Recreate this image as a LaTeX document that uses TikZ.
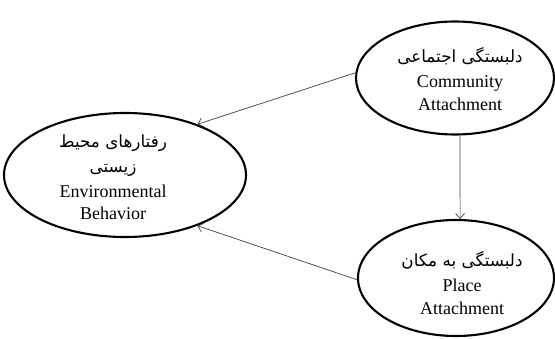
\documentclass[tikz,border=0pt]{standalone}
\usepackage{fontspec}
\setmainfont{Liberation Serif}
\newfontfamily\farsifont[Script=Arabic]{DejaVu Sans}
\TeXXeTstate=1
\usetikzlibrary{shapes.geometric,arrows.meta}

\newcommand{\fa}[1]{{\farsifont\fontsize{16.8}{22.5}\selectfont\beginR #1\endR}}

\tikzset{
  concept/.style={ellipse, draw, line width=2.1pt, inner sep=0pt},
  caption/.style={inner sep=0pt, align=center, font=\fontsize{18}{22.5}\selectfont},
  link/.style={-{Straight Barb[length=5pt,width=9pt]}, draw=black!75, line width=0.7pt}
}

\begin{document}
\begin{tikzpicture}[x=1pt,y=1pt]
    \useasboundingbox (0,0) rectangle (555,338);

    % the three concepts
    \node[concept, minimum width=242pt, minimum height=124pt] (env) at (125,163) {};
    \node[concept, minimum width=198pt, minimum height=113pt] (comm) at (455,260) {};
    \node[concept, minimum width=196pt, minimum height=116pt] (place) at (456,60) {};

    % the texts
    \node[caption] (envtext) at (113,161)
        {\fa{رفتارهای محیط}\\[3pt]\fa{زیستی}\\[2pt]Environmental\\Behavior};
    \node[caption] (commtext) at (460,259)
        {\fa{دلبستگی اجتماعی}\\[3pt]Community\\Attachment};
    \node[caption] (placetext) at (462,55)
        {\fa{دلبستگی به مکان}\\[3pt]Place\\Attachment};

    % the arrows
    \draw[link] (comm.177) -- (env.35);
    \draw[link] (place.181) -- (env.325);
    \draw[link] (comm.275) -- (place.86);
\end{tikzpicture}
\end{document}
